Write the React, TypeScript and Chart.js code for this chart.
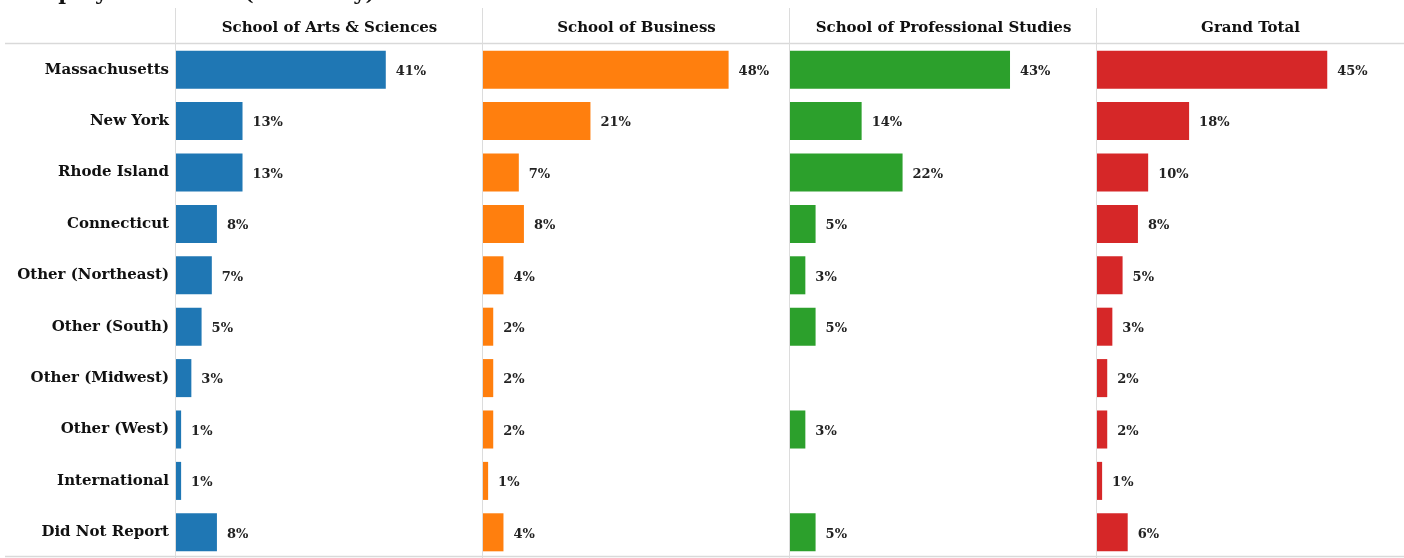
import React, { useEffect, useRef } from "react";
import { Chart, registerables } from "chart.js";

Chart.register(...registerables);

const TITLE = "Employment State (Summary)";
const categories = [
  "Massachusetts",
  "New York",
  "Rhode Island",
  "Connecticut",
  "Other (Northeast)",
  "Other (South)",
  "Other (Midwest)",
  "Other (West)",
  "International",
  "Did Not Report",
];
const panels = [
  "School of Arts & Sciences",
  "School of Business",
  "School of Professional Studies",
  "Grand Total",
];
const artsSciences = [41, 13, 13, 8, 7, 5, 3, 1, 1, 8];
const business = [48, 21, 7, 8, 4, 2, 2, 2, 1, 4];
const professional = [43, 14, 22, 5, 3, 5, null, 3, null, 5];
const grandTotal = [45, 18, 10, 8, 5, 3, 2, 2, 1, 6];
const colors = ["#1f77b4", "#ff7f0e", "#2ca02c", "#d62728"];
const X_MAX = 60;

const SERIF = "'DejaVu Serif', 'Liberation Serif', serif";

export default function App() {
  const ref = useRef<HTMLCanvasElement | null>(null);

  useEffect(() => {
    const canvas = ref.current;
    if (!canvas) return;
    const series = [artsSciences, business, professional, grandTotal];

    const overlay = {
      id: "overlay",
      afterDraw(chart: any) {
        const ctx = chart.ctx;
        ctx.save();
        // clipped title
        ctx.fillStyle = "#111";
        ctx.font = `bold 21px ${SERIF}`;
        ctx.textAlign = "left";
        ctx.textBaseline = "alphabetic";
        ctx.fillText(TITLE, 20, 0);
        // horizontal lines
        ctx.strokeStyle = "#d9d9d9";
        ctx.lineWidth = 1.5;
        ctx.beginPath();
        ctx.moveTo(5, 43.5);
        ctx.lineTo(chart.width, 43.5);
        ctx.moveTo(5, 556.5);
        ctx.lineTo(chart.width, 556.5);
        ctx.stroke();
        // panels
        ctx.lineWidth = 1;
        ctx.strokeStyle = "#dcdcdc";
        for (let p = 0; p < panels.length; p++) {
          const sc = chart.scales["x" + p];
          const left = Math.round(sc.left) - 0.5;
          ctx.beginPath();
          ctx.moveTo(left, 8);
          ctx.lineTo(left, 558);
          ctx.stroke();
          ctx.fillStyle = "#111";
          ctx.font = `bold 15px ${SERIF}`;
          ctx.textAlign = "center";
          ctx.textBaseline = "middle";
          ctx.fillText(panels[p], (sc.left + sc.right) / 2, 28);
        }
        // data labels
        ctx.font = `bold 13px ${SERIF}`;
        ctx.textAlign = "left";
        ctx.textBaseline = "middle";
        ctx.fillStyle = "#222";
        chart.data.datasets.forEach((ds: any, di: number) => {
          const meta = chart.getDatasetMeta(di);
          meta.data.forEach((el: any, i: number) => {
            const v = ds.data[i];
            if (v === null || v === undefined) return;
            ctx.fillText(Math.round(v) + "%", el.x + 10, el.y + 2);
          });
        });
        ctx.restore();
      },
    };

    const xScales: any = {};
    for (let p = panels.length - 1; p >= 0; p--) {
      xScales["x" + p] = {
        type: "linear",
        position: "top",
        stack: "panels",
        stackWeight: 1,
        min: 0,
        max: X_MAX,
        display: true,
        grid: { display: false, drawTicks: false },
        border: { display: false },
        ticks: { display: false },
        afterFit(scale: any) {
          scale.height = 44;
          scale.paddingLeft = 0;
          scale.paddingRight = 0;
        },
      };
    }

    const chart = new Chart(canvas, {
      type: "bar",
      data: {
        labels: categories,
        datasets: series.map((s, p) => ({
          label: panels[p],
          data: s as any,
          xAxisID: "x" + p,
          yAxisID: "y",
          backgroundColor: colors[p],
          borderWidth: 0,
          grouped: false,
          categoryPercentage: 1,
          barPercentage: 0.74,
        })),
      },
      options: {
        indexAxis: "y",
        animation: false,
        responsive: false,
        maintainAspectRatio: false,
        layout: { padding: 0 },
        plugins: {
          legend: { display: false },
          tooltip: { enabled: false },
          title: { display: false },
        },
        scales: {
          ...xScales,
          y: {
            type: "category",
            position: "left",
            grid: { display: false, drawTicks: false },
            border: { display: false },
            ticks: {
              padding: 7,
              color: "#111",
              font: { family: SERIF, weight: "bold", size: 15 },
            },
            afterFit(scale: any) {
              scale.width = 176;
              scale.paddingTop = 0;
              scale.paddingBottom = 0;
            },
          },
        },
      },
      plugins: [overlay],
    });
    return () => chart.destroy();
  }, []);

  return (
    <div style={{ position: "fixed", left: 0, top: 0, width: 1404, height: 558, background: "#fff" }}>
      <canvas ref={ref} width={1404} height={558} style={{ width: 1404, height: 558 }} />
    </div>
  );
}
